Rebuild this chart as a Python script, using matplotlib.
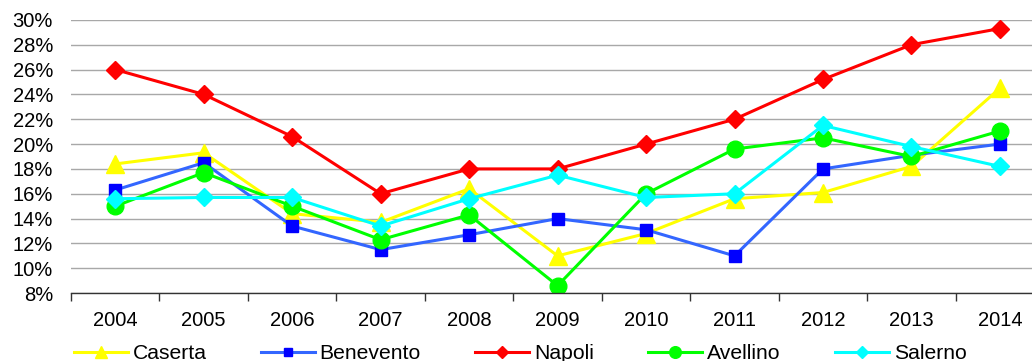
import numpy as np
import matplotlib
matplotlib.use("Agg")
import matplotlib.pyplot as plt
from matplotlib.ticker import FuncFormatter

plt.rcParams['font.family'] = ['Liberation Sans', 'DejaVu Sans']

years = ['2004', '2005', '2006', '2007', '2008', '2009', '2010', '2011', '2012', '2013', '2014']
caserta = [18.4, 19.3, 14.4, 13.7, 16.4, 11.0, 12.8, 15.6, 16.1, 18.2, 24.5]
benevento = [16.3, 18.5, 13.4, 11.5, 12.7, 14.0, 13.1, 11.0, 18.0, 19.1, 20.0]
napoli = [26.0, 24.0, 20.6, 16.0, 18.0, 18.0, 20.0, 22.0, 25.2, 28.0, 29.3]
avellino = [15.0, 17.7, 15.0, 12.3, 14.3, 8.6, 16.0, 19.6, 20.5, 19.0, 21.05]
salerno = [15.6, 15.7, 15.7, 13.4, 15.6, 17.5, 15.7, 16.0, 21.5, 19.8, 18.2]

fig = plt.figure(figsize=(10.32, 3.61), dpi=100)
ax = fig.add_axes([0.0688, 0.188, 0.943, 0.757])

x = np.arange(len(years))
ax.plot(x, caserta, color='#FFFF00', lw=2.2, marker='^', ms=13, label='Caserta')
ax.plot(x, benevento, color='#3366FF', lw=2.2, marker='s', ms=8,
        mfc='#0000FF', mec='#0000FF', label='Benevento')
ax.plot(x, napoli, color='#FF0000', lw=2.2, marker='D', ms=9, label='Napoli')
ax.plot(x, avellino, color='#00FF00', lw=2.2, marker='o', ms=12, label='Avellino')
ax.plot(x, salerno, color='#00FFFF', lw=2.2, marker='D', ms=9, label='Salerno')

ax.set_xlim(-0.5, len(years) - 0.5)
ax.set_ylim(8, 30)
ax.set_yticks(np.arange(8, 31, 2))
ax.yaxis.set_major_formatter(FuncFormatter(lambda v, p: f'{v:.0f}%'))
ax.set_xticks(x)
ax.set_xticklabels(years)
ax.set_xticks(np.arange(-0.5, len(years), 1), minor=True)
ax.tick_params(axis='x', which='major', length=0, pad=13, labelsize=14.5)
ax.tick_params(axis='x', which='minor', length=6, width=1, color='#333333', direction='out')
ax.tick_params(axis='y', length=0, pad=13, labelsize=14.5)

ax.grid(axis='y', color='#a8a8a8', lw=1)
ax.set_axisbelow(True)
for s in ['left', 'right', 'top']:
    ax.spines[s].set_visible(False)
ax.spines['bottom'].set_color('#333333')
ax.spines['bottom'].set_linewidth(1)

fig.legend(loc='center', bbox_to_anchor=(0.504, 0.02), ncol=5, frameon=False,
           fontsize=15.2, markerscale=0.7, handlelength=2.56, handletextpad=0.22,
           columnspacing=2.58)

fig.savefig('out.png', dpi=100)
